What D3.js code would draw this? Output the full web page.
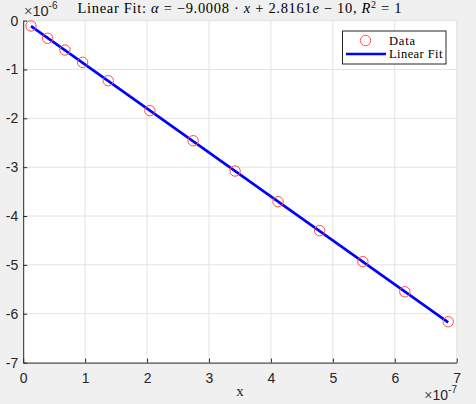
<!DOCTYPE html>
<html>
<head>
<meta charset="utf-8">
<script src="https://cdn.jsdelivr.net/npm/d3@7"></script>
<style>
  body { margin: 0; background: #f0f0f0; }
  svg { display: block; }
</style>
</head>
<body>
<div id="chart"></div>
<script>
// data (x in 1e-7, y in 1e-6)
var xData = [0.126, 0.395, 0.674, 0.96, 1.373, 2.045, 2.744, 3.421, 4.115, 4.787, 5.485, 6.163, 6.863];
var yData = [-0.11, -0.362, -0.602, -0.854, -1.23, -1.844, -2.459, -3.079, -3.707, -4.30, -4.935, -5.55, -6.164];
var xTicks = [0, 1, 2, 3, 4, 5, 6, 7];
var yTicks = [0, -1, -2, -3, -4, -5, -6, -7];
// fit from the title: alpha = -9.0008*x + 2.8161e-10 (scaled units)
var fitSlope = -0.90008;
var fitIntercept = 0.00028161;
var legendLabels = ["Data", "Linear Fit"];

var svgWidth = 476;
var svgHeight = 404;
var margin = { top: 20.6, right: 19.3, bottom: 41.4, left: 23.2 };
var width = svgWidth - margin.left - margin.right;
var height = svgHeight - margin.top - margin.bottom;

var axisColor = "#262626";
var serif = "'Liberation Serif', 'DejaVu Serif', serif";
var sans = "'Liberation Sans', Arial, sans-serif";

var svg = d3.select("#chart").append("svg").attr("width", svgWidth).attr("height", svgHeight);
svg.append("rect").attr("width", svgWidth).attr("height", svgHeight).attr("fill", "#f0f0f0");

var chartGroup = svg.append("g").attr("transform", `translate(${margin.left},${margin.top})`);
chartGroup.append("rect").attr("width", width).attr("height", height).attr("fill", "#ffffff");

var x = d3.scaleLinear().domain([0, 7]).range([0, width]);
var y = d3.scaleLinear().domain([-7, 0]).range([height, 0]);

// grid
chartGroup.append("g").selectAll("line").data(xTicks.slice(1)).enter().append("line")
  .attr("x1", d => x(d)).attr("x2", d => x(d)).attr("y1", 0).attr("y2", height)
  .attr("stroke", "#e3e3e3").attr("stroke-width", 1);
chartGroup.append("g").selectAll("line").data(yTicks.slice(0, -1)).enter().append("line")
  .attr("x1", 0).attr("x2", width).attr("y1", d => y(d)).attr("y2", d => y(d))
  .attr("stroke", "#e3e3e3").attr("stroke-width", 1);

// axes (ticks inside)
var bottomAxis = d3.axisBottom(x).tickValues(xTicks).tickSizeInner(-4).tickSizeOuter(0).tickPadding(10).tickFormat(d3.format("d"));
var leftAxis = d3.axisLeft(y).tickValues(yTicks).tickSizeInner(-4).tickSizeOuter(0).tickPadding(5).tickFormat(d => d === 0 ? "0" : "-" + Math.abs(d));

var gx = chartGroup.append("g").attr("transform", `translate(0,${height})`).call(bottomAxis);
var gy = chartGroup.append("g").call(leftAxis);
[gx, gy].forEach(function(g) {
  g.select(".domain").attr("stroke", axisColor).attr("stroke-width", 1);
  g.selectAll(".tick line").attr("stroke", axisColor);
  g.selectAll(".tick text").attr("fill", axisColor).attr("font-family", sans).attr("font-size", 14);
});
gx.selectAll(".tick text").attr("dy", "0.71em");

// fit line
var fitX = [d3.min(xData), d3.max(xData)];
chartGroup.append("path")
  .datum(fitX)
  .attr("d", d3.line().x(d => x(d)).y(d => y(fitSlope * d + fitIntercept)))
  .attr("stroke", "#0000ff").attr("stroke-width", 2.6).attr("fill", "none");

// data markers
chartGroup.selectAll("circle.pt").data(xData).enter().append("circle")
  .attr("class", "pt")
  .attr("cx", (d, i) => x(d)).attr("cy", (d, i) => y(yData[i]))
  .attr("r", 5.2).attr("fill", "none").attr("stroke", "#ff4d4d").attr("stroke-width", 1);

// exponents
var ey = svg.append("text").attr("x", 24).attr("y", 16).attr("fill", axisColor)
  .attr("font-family", sans).attr("font-size", 14.5);
ey.append("tspan").attr("fill", "#555").text("\u00d7");
ey.append("tspan").text("10");
ey.append("tspan").attr("font-size", 10).attr("dy", -7).text("-6");

var ex = svg.append("text").attr("x", 457).attr("y", 400).attr("fill", axisColor)
  .attr("font-family", sans).attr("font-size", 14).attr("text-anchor", "end");
ex.append("tspan").attr("fill", "#555").text("\u00d7");
ex.append("tspan").text("10");
ex.append("tspan").attr("font-size", 10).attr("dy", -7).text("-7");

// x label
svg.append("text").attr("x", margin.left + width / 2).attr("y", 396).attr("text-anchor", "middle")
  .attr("fill", axisColor).attr("font-family", serif).attr("font-size", 15).text("x");

// title
var title = svg.append("text").attr("x", 77.5).attr("y", 13)
  .attr("textLength", 324).attr("lengthAdjust", "spacing")
  .attr("fill", "#000000").attr("font-family", serif).attr("font-size", 14.5);
title.append("tspan").text("Linear Fit: ");
title.append("tspan").attr("font-style", "italic").text("\u03b1");
title.append("tspan").text(" = \u22129.0008 \u00b7 ");
title.append("tspan").attr("font-style", "italic").text("x");
title.append("tspan").text(" + 2.8161");
title.append("tspan").attr("font-style", "italic").text("e");
title.append("tspan").text(" \u2212 10, ");
title.append("tspan").attr("font-style", "italic").text("R");
title.append("tspan").attr("font-size", 10).attr("dy", -5).text("2");
title.append("tspan").attr("dy", 5).text(" = 1");

// legend
var legend = svg.append("g").attr("transform", "translate(342.5,31)");
legend.append("rect").attr("width", 103.5).attr("height", 33)
  .attr("fill", "#ffffff").attr("stroke", "#262626").attr("stroke-width", 1);
legend.append("circle").attr("cx", 23).attr("cy", 9.5).attr("r", 5.2)
  .attr("fill", "none").attr("stroke", "#ff4d4d").attr("stroke-width", 1);
legend.append("line").attr("x1", 3.5).attr("x2", 43.5).attr("y1", 23).attr("y2", 23)
  .attr("stroke", "#0000ff").attr("stroke-width", 2.6);
legend.selectAll("text.lg").data(legendLabels).enter().append("text")
  .attr("class", "lg")
  .attr("x", 46.5).attr("y", (d, i) => i === 0 ? 13.5 : 27)
  .attr("textLength", (d, i) => i === 0 ? 26 : 53.5).attr("lengthAdjust", "spacing")
  .attr("font-family", serif).attr("font-size", 12.5).attr("fill", "#000000")
  .text(d => d);
</script>
</body>
</html>
